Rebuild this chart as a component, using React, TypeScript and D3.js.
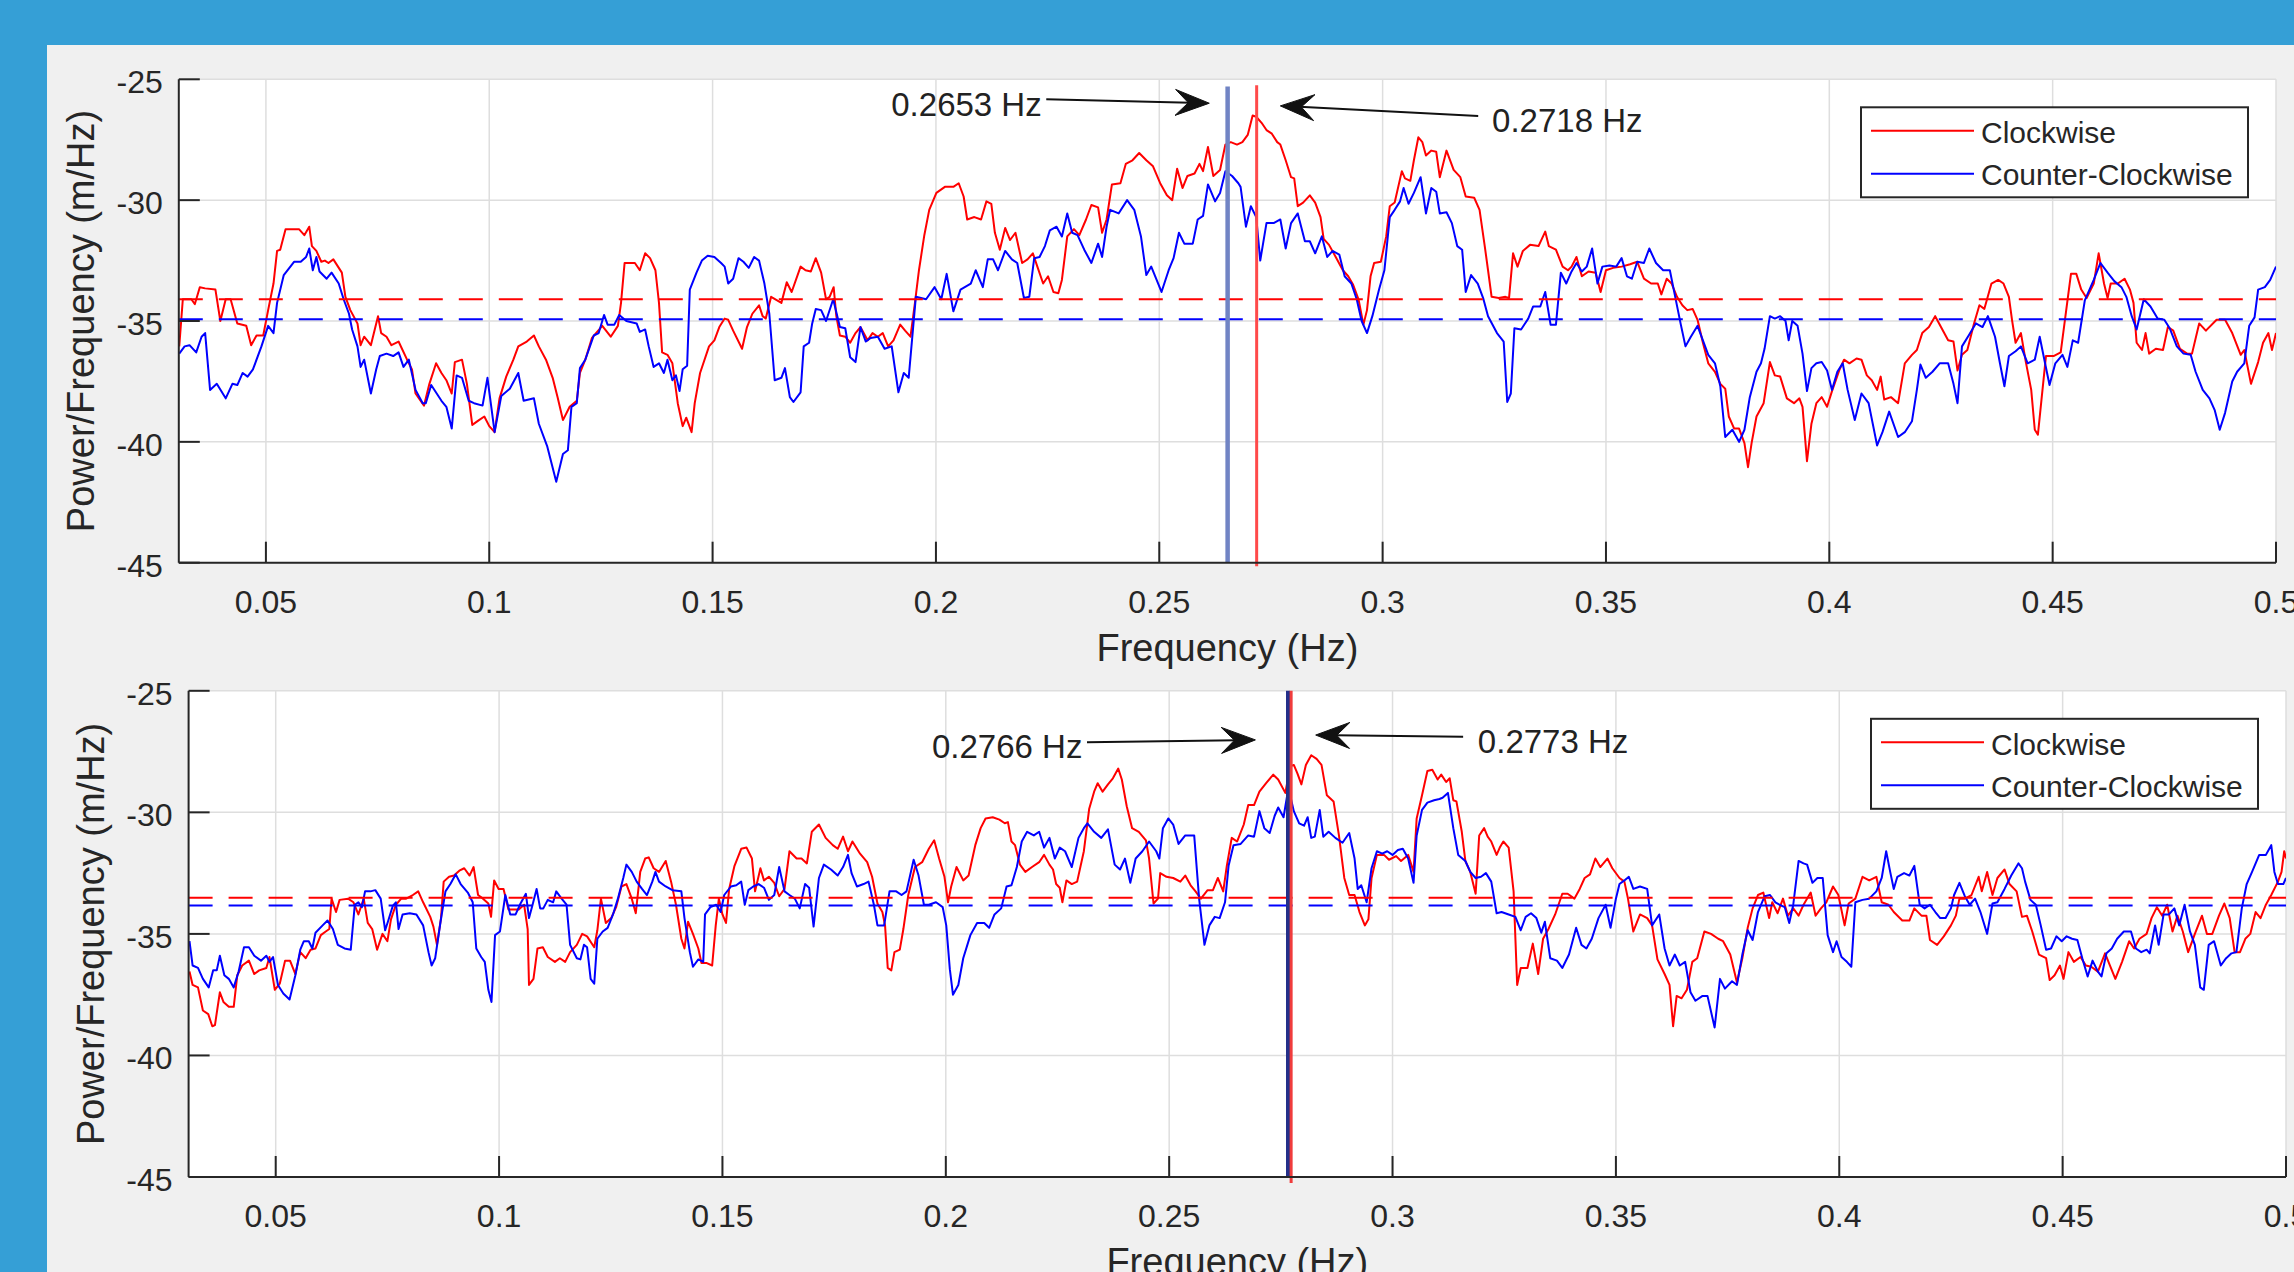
import React from "react";
import * as d3 from "d3";

type Pt = [number, number];

const xTicks = [0.05, 0.1, 0.15, 0.2, 0.25, 0.3, 0.35, 0.4, 0.45, 0.5];
const xTickLabels = ["0.05", "0.1", "0.15", "0.2", "0.25", "0.3", "0.35", "0.4", "0.45", "0.5"];
const yTicks = [-25, -30, -35, -40, -45];
const yTickLabels = ["-25", "-30", "-35", "-40", "-45"];
const seriesNames = ["Clockwise", "Counter-Clockwise"];
const xLabel = "Frequency (Hz)";
const yLabel = "Power/Frequency (m/Hz)";

const topCW: Pt[] = [
[0.0306,-36.05],[0.0314,-34.1],[0.0333,-34.1],[0.0341,-34.3],[0.0352,-33.6],[0.0364,-33.65],[0.0387,-33.7],[0.0398,-35.0],[0.041,-34.1],[0.0421,-34.1],[0.0436,-35.1],[0.0456,-35.2],[0.0467,-36.0],[0.0479,-35.6],[0.0494,-35.6],[0.0505,-34.55],[0.0517,-33.45],[0.0525,-32.1],[0.0532,-32.05],[0.0544,-31.2],[0.0574,-31.2],[0.0586,-31.45],[0.0597,-31.1],[0.0603,-31.9],[0.0613,-32.1],[0.0624,-32.55],[0.0632,-32.5],[0.064,-32.6],[0.0651,-32.45],[0.067,-33.0],[0.0678,-34.0],[0.0689,-34.55],[0.0705,-35.1],[0.0712,-36.0],[0.072,-35.65],[0.0735,-36.0],[0.0751,-34.8],[0.0758,-35.5],[0.077,-35.65],[0.0781,-36.0],[0.0797,-35.85],[0.0816,-36.6],[0.0827,-37.0],[0.0835,-38.0],[0.0854,-38.5],[0.0866,-37.6],[0.0881,-36.75],[0.0893,-37.15],[0.0904,-37.45],[0.0916,-38.0],[0.0923,-36.7],[0.0939,-36.6],[0.095,-37.6],[0.0962,-39.3],[0.0977,-39.1],[0.0989,-38.95],[0.1,-39.35],[0.1012,-39.6],[0.1023,-38.2],[0.1038,-37.3],[0.1054,-36.6],[0.1065,-36.05],[0.1084,-35.85],[0.11,-35.6],[0.1111,-36.05],[0.1127,-36.6],[0.1142,-37.35],[0.1153,-38.15],[0.1165,-39.1],[0.118,-38.55],[0.1196,-38.3],[0.1203,-37.15],[0.1215,-36.6],[0.123,-35.7],[0.1253,-35.2],[0.1272,-35.65],[0.1288,-35.2],[0.1295,-34.25],[0.1303,-32.6],[0.1326,-32.6],[0.1337,-32.9],[0.1349,-32.2],[0.136,-32.4],[0.1372,-32.9],[0.138,-34.25],[0.1387,-36.3],[0.1399,-36.4],[0.141,-36.75],[0.1422,-38.4],[0.1433,-39.35],[0.1441,-39.0],[0.1453,-39.6],[0.146,-38.4],[0.1472,-37.15],
[0.1492,-36.05],[0.1504,-35.8],[0.1515,-35.25],[0.1527,-34.9],[0.1535,-34.95],[0.1546,-35.4],[0.1566,-36.15],[0.1577,-35.25],[0.1589,-34.7],[0.1604,-34.35],[0.1612,-34.8],[0.1619,-34.9],[0.1631,-34.0],[0.1654,-34.25],[0.1666,-33.4],[0.1677,-33.8],[0.1697,-32.75],[0.1708,-32.9],[0.172,-32.95],[0.1731,-32.4],[0.1743,-33.0],[0.1754,-34.1],[0.1762,-34.0],[0.1771,-33.6],[0.1777,-34.8],[0.1785,-35.6],[0.1797,-35.65],[0.1808,-35.9],[0.182,-35.5],[0.1831,-35.25],[0.1847,-35.8],[0.1858,-35.5],[0.187,-35.65],[0.1881,-35.5],[0.1893,-36.05],[0.1905,-35.8],[0.192,-35.15],[0.1931,-35.4],[0.1943,-35.65],[0.1953,-34.25],[0.1962,-32.9],[0.1974,-31.45],[0.1985,-30.4],[0.2001,-29.7],[0.202,-29.45],[0.2039,-29.45],[0.2051,-29.3],[0.2062,-29.85],[0.207,-30.8],[0.2086,-30.7],[0.2101,-30.8],[0.2113,-30.05],[0.2124,-30.15],[0.2132,-31.35],[0.2143,-32.05],[0.2155,-31.15],[0.2166,-31.65],[0.2178,-31.35],[0.2193,-32.6],[0.2205,-32.45],[0.2217,-32.2],[0.2228,-32.8],[0.224,-33.45],[0.2251,-33.15],[0.2263,-33.8],[0.2274,-33.85],[0.2282,-33.3],[0.2294,-31.5],[0.2309,-31.2],[0.2321,-31.45],[0.2336,-30.8],[0.2348,-30.2],[0.2363,-30.3],[0.2372,-31.35],[0.2382,-30.8],[0.2394,-29.35],[0.2413,-29.3],[0.2425,-28.5],[0.244,-28.35],[0.2455,-28.05],[0.2471,-28.35],[0.2486,-28.6],[0.2502,-29.3],[0.2517,-29.8],[0.2529,-30.0],[0.254,-28.7],[0.2552,-29.5],[0.2563,-29.0],[0.2579,-28.9],[0.259,-28.5],[0.2598,-28.8],[0.2609,-27.8],[0.2621,-29.0],[0.2636,-28.75],[0.2648,-27.7],[0.266,-27.6],[0.2674,-27.7],
[0.2686,-27.6],[0.2698,-27.3],[0.2709,-26.5],[0.2717,-26.55],[0.2729,-26.8],[0.274,-27.1],[0.2752,-27.25],[0.2764,-27.6],[0.2771,-27.7],[0.2783,-28.35],[0.2795,-29.05],[0.2802,-29.1],[0.281,-30.25],[0.2822,-30.1],[0.2837,-29.8],[0.2849,-30.1],[0.2861,-30.7],[0.2868,-31.6],[0.288,-31.85],[0.2895,-32.35],[0.2911,-32.9],[0.2923,-33.15],[0.2934,-33.5],[0.2946,-34.1],[0.2957,-35.15],[0.2965,-34.55],[0.2973,-33.15],[0.2981,-32.6],[0.2996,-32.55],[0.3008,-31.5],[0.3016,-30.25],[0.3027,-30.1],[0.3043,-28.8],[0.305,-29.1],[0.3062,-29.2],[0.307,-28.35],[0.308,-27.4],[0.3089,-27.6],[0.3097,-28.15],[0.3109,-27.95],[0.312,-28.0],[0.3128,-29.05],[0.3143,-27.95],[0.3159,-28.75],[0.3174,-29.05],[0.3186,-29.85],[0.3205,-29.9],[0.3217,-30.4],[0.3229,-31.95],[0.3236,-32.9],[0.3244,-34.0],[0.326,-34.05],[0.3275,-34.0],[0.3283,-34.05],[0.3292,-32.2],[0.3302,-32.75],[0.3314,-32.1],[0.333,-31.85],[0.3349,-31.9],[0.3364,-31.3],[0.3372,-31.9],[0.3388,-32.05],[0.3403,-32.75],[0.3415,-32.9],[0.3423,-32.75],[0.3434,-32.35],[0.3446,-33.15],[0.3461,-32.95],[0.3477,-33.0],[0.3488,-33.8],[0.35,-32.9],[0.3516,-32.8],[0.3535,-32.75],[0.3554,-32.65],[0.357,-32.55],[0.3585,-33.25],[0.3601,-33.45],[0.3616,-33.45],[0.3624,-33.9],[0.3636,-33.25],[0.3647,-33.45],[0.3659,-34.0],[0.3671,-34.35],[0.3682,-34.55],[0.3694,-34.5],[0.3705,-34.95],[0.3717,-35.9],[0.3729,-36.75],[0.3744,-37.1],[0.3756,-37.6],[0.3767,-37.8],[0.3775,-38.95],[0.3787,-39.45],[0.3798,-39.45],[0.381,-40.05],[0.3818,-41.05],[0.3826,-40.05],[0.3837,-38.95],[0.3853,-38.4],
[0.3867,-36.7],[0.3878,-37.25],[0.389,-37.3],[0.3905,-38.2],[0.3921,-38.4],[0.3933,-38.2],[0.394,-38.55],[0.395,-40.8],[0.396,-39.25],[0.3971,-38.4],[0.3983,-38.15],[0.3995,-38.55],[0.4006,-37.9],[0.4022,-37.05],[0.4033,-36.6],[0.4045,-36.75],[0.4061,-36.55],[0.4072,-36.6],[0.4084,-37.25],[0.4095,-37.45],[0.4107,-37.85],[0.4115,-37.3],[0.4123,-38.25],[0.4138,-38.15],[0.4154,-38.4],[0.4169,-36.75],[0.4185,-36.4],[0.4196,-36.2],[0.4208,-35.5],[0.4223,-35.25],[0.4237,-34.8],[0.425,-35.25],[0.4266,-35.8],[0.4278,-35.85],[0.4287,-37.05],[0.4297,-36.4],[0.4309,-36.2],[0.4324,-35.1],[0.4336,-34.35],[0.4347,-34.5],[0.4363,-33.45],[0.4378,-33.3],[0.439,-33.45],[0.4402,-34.0],[0.4409,-34.95],[0.4417,-35.9],[0.4429,-35.5],[0.444,-36.7],[0.4452,-37.85],[0.446,-39.5],[0.4467,-39.7],[0.4475,-38.25],[0.4485,-36.45],[0.4502,-36.45],[0.4518,-36.3],[0.453,-34.6],[0.4541,-33.05],[0.4553,-33.05],[0.4564,-33.7],[0.4576,-34.05],[0.4592,-33.45],[0.4603,-32.2],[0.4615,-33.45],[0.4623,-34.05],[0.463,-33.45],[0.4646,-33.45],[0.4661,-33.25],[0.4673,-33.7],[0.4681,-34.25],[0.4688,-35.9],[0.47,-36.2],[0.4708,-35.5],[0.4716,-36.35],[0.4731,-36.15],[0.4747,-36.2],[0.4758,-35.25],[0.477,-35.4],[0.4785,-36.15],[0.4801,-36.35],[0.4812,-36.35],[0.4828,-35.1],[0.4843,-35.4],[0.4867,-34.95],[0.4886,-34.95],[0.4902,-35.5],[0.4921,-36.4],[0.4929,-36.2],[0.4944,-37.6],[0.496,-36.7],[0.4971,-35.9],[0.4983,-35.5],[0.4991,-36.2],[0.5,-35.5]
];

const topCCW: Pt[] = [
[0.0306,-36.35],[0.0318,-36.05],[0.0329,-36.0],[0.0344,-36.3],[0.0356,-35.65],[0.0364,-35.5],[0.0375,-37.85],[0.039,-37.6],[0.041,-38.2],[0.0425,-37.6],[0.0436,-37.65],[0.0448,-37.15],[0.0459,-37.3],[0.0471,-37.0],[0.049,-36.05],[0.0505,-35.2],[0.0517,-35.5],[0.0525,-34.25],[0.054,-33.1],[0.0563,-32.55],[0.0578,-32.55],[0.059,-32.35],[0.0597,-32.0],[0.0605,-32.9],[0.0613,-32.35],[0.062,-32.95],[0.0636,-33.25],[0.0647,-33.0],[0.0663,-33.45],[0.0674,-34.1],[0.0686,-34.7],[0.0693,-35.35],[0.0705,-36.05],[0.0712,-36.9],[0.072,-36.6],[0.0735,-38.0],[0.0747,-37.0],[0.0755,-36.45],[0.077,-36.35],[0.0785,-36.45],[0.0797,-36.3],[0.0808,-36.9],[0.082,-36.6],[0.0835,-37.85],[0.0851,-38.4],[0.0858,-38.4],[0.087,-37.65],[0.0893,-38.3],[0.0904,-38.55],[0.0916,-39.45],[0.0927,-37.25],[0.0939,-37.35],[0.0954,-38.3],[0.0966,-38.4],[0.0985,-38.5],[0.0996,-37.35],[0.1012,-39.6],[0.1027,-38.1],[0.1046,-37.8],[0.1065,-37.15],[0.1077,-38.3],[0.11,-38.2],[0.1111,-39.25],[0.113,-40.2],[0.115,-41.65],[0.1165,-40.5],[0.1176,-40.35],[0.1184,-38.55],[0.1196,-38.4],[0.1203,-36.95],[0.1215,-36.6],[0.1234,-35.6],[0.1245,-35.5],[0.1257,-34.75],[0.1265,-35.15],[0.128,-35.15],[0.1291,-34.75],[0.1307,-35.0],[0.133,-35.1],[0.1337,-35.45],[0.1349,-35.35],[0.1357,-36.05],[0.1368,-36.9],[0.138,-36.75],[0.1391,-37.15],[0.1399,-36.6],[0.141,-37.45],[0.1418,-37.25],[0.1426,-37.9],[0.1433,-37.0],[0.1443,-36.85],[0.1449,-33.7],[0.1464,-33.0],[0.1476,-32.5],[0.1489,-32.3],
[0.1504,-32.35],[0.1519,-32.6],[0.1527,-32.75],[0.1535,-33.45],[0.1546,-33.25],[0.1558,-32.4],[0.1569,-32.55],[0.1581,-32.8],[0.1593,-32.35],[0.1604,-32.5],[0.1616,-33.45],[0.1627,-34.7],[0.1639,-37.45],[0.1654,-37.35],[0.1662,-36.95],[0.1673,-38.15],[0.1681,-38.35],[0.1697,-37.95],[0.1704,-36.05],[0.1716,-35.9],[0.1723,-35.1],[0.1731,-34.5],[0.1743,-34.55],[0.1754,-35.0],[0.177,-34.1],[0.1785,-35.25],[0.1797,-35.3],[0.1808,-36.5],[0.182,-36.7],[0.1831,-35.25],[0.1843,-35.85],[0.1854,-35.7],[0.187,-35.65],[0.1885,-36.15],[0.1901,-36.05],[0.1916,-37.95],[0.1928,-37.15],[0.1939,-37.35],[0.1955,-34.0],[0.1978,-34.1],[0.1997,-33.6],[0.2012,-34.1],[0.2024,-33.05],[0.2039,-34.6],[0.2055,-33.7],[0.2078,-33.45],[0.2089,-32.9],[0.2105,-33.6],[0.2116,-32.45],[0.2128,-32.45],[0.2139,-32.9],[0.2155,-32.1],[0.217,-32.45],[0.2182,-32.6],[0.2197,-34.05],[0.2209,-34.0],[0.222,-32.4],[0.2232,-32.35],[0.2244,-31.9],[0.2255,-31.25],[0.227,-31.1],[0.2282,-31.5],[0.2294,-30.55],[0.2305,-31.35],[0.2317,-31.45],[0.2332,-32.05],[0.2348,-32.6],[0.2363,-31.8],[0.2372,-32.35],[0.2382,-31.1],[0.239,-30.4],[0.2409,-30.55],[0.2428,-30.0],[0.2444,-30.4],[0.2459,-31.5],[0.2471,-33.1],[0.2482,-32.75],[0.2505,-33.8],[0.2521,-32.9],[0.2532,-32.4],[0.2544,-31.35],[0.2556,-31.8],[0.2575,-31.8],[0.2586,-30.8],[0.2598,-30.65],[0.2609,-29.35],[0.2625,-30.05],[0.2636,-29.7],[0.2648,-28.8],[0.2663,-29.0],[0.2677,-29.3],
[0.2682,-29.45],[0.2694,-31.1],[0.2705,-30.25],[0.2717,-30.7],[0.2726,-32.5],[0.274,-30.95],[0.2756,-30.95],[0.2771,-30.8],[0.2783,-32.0],[0.2795,-30.95],[0.281,-30.55],[0.2826,-31.7],[0.2837,-31.7],[0.2849,-32.2],[0.2864,-31.5],[0.2876,-32.35],[0.2888,-32.1],[0.2903,-32.25],[0.2915,-33.15],[0.293,-33.45],[0.2942,-34.1],[0.2953,-35.0],[0.2965,-35.5],[0.2977,-34.8],[0.2992,-33.7],[0.3004,-32.9],[0.3016,-30.7],[0.3027,-30.4],[0.3039,-30.05],[0.3047,-29.5],[0.3058,-30.15],[0.307,-29.7],[0.3085,-29.05],[0.3097,-30.55],[0.3109,-29.5],[0.312,-29.65],[0.3128,-30.55],[0.3143,-30.5],[0.3155,-30.95],[0.3167,-31.9],[0.3178,-32.05],[0.3186,-33.8],[0.3198,-33.1],[0.3213,-33.45],[0.3225,-34.05],[0.3236,-34.8],[0.3256,-35.5],[0.3271,-35.85],[0.3279,-38.35],[0.3287,-38.0],[0.3295,-35.3],[0.331,-35.35],[0.3326,-34.9],[0.3337,-34.4],[0.3353,-34.4],[0.3364,-33.8],[0.3376,-35.15],[0.3388,-35.15],[0.3399,-33.0],[0.3411,-33.45],[0.3423,-32.95],[0.3434,-32.6],[0.3446,-32.95],[0.3457,-32.75],[0.3469,-32.0],[0.3481,-33.45],[0.3492,-32.75],[0.3508,-32.7],[0.3523,-32.75],[0.3535,-32.4],[0.3547,-33.15],[0.3558,-33.25],[0.357,-32.55],[0.3585,-32.6],[0.3597,-32.0],[0.3612,-32.6],[0.3628,-32.9],[0.3643,-32.9],[0.3655,-34.0],[0.3667,-35.1],[0.3678,-36.05],[0.369,-35.65],[0.3705,-35.2],[0.3717,-35.8],[0.3729,-36.4],[0.3744,-36.75],[0.3756,-37.7],[0.3767,-39.8],[0.3783,-39.5],[0.3798,-40.0],[0.381,-39.5],[0.3822,-38.15],[0.3837,-37.1],[0.3847,-36.75],
[0.3855,-36.15],[0.3867,-34.8],[0.3878,-34.9],[0.389,-34.8],[0.3902,-35.0],[0.3909,-35.8],[0.3917,-35.0],[0.3929,-35.2],[0.394,-36.35],[0.395,-37.9],[0.396,-36.95],[0.3971,-36.75],[0.3983,-36.7],[0.3995,-37.05],[0.4006,-37.85],[0.4018,-37.1],[0.403,-36.75],[0.4041,-37.85],[0.4057,-39.1],[0.4072,-38.0],[0.4088,-38.4],[0.4107,-40.15],[0.4119,-39.6],[0.4134,-38.75],[0.4154,-39.8],[0.4169,-39.6],[0.4185,-39.15],[0.4196,-37.85],[0.4204,-36.8],[0.4216,-37.35],[0.4231,-37.1],[0.4247,-36.75],[0.4266,-36.75],[0.4278,-37.6],[0.4287,-38.4],[0.4297,-36.05],[0.4312,-35.6],[0.4328,-35.1],[0.4343,-35.25],[0.4355,-34.8],[0.4371,-35.65],[0.4382,-36.75],[0.4392,-37.7],[0.4402,-36.45],[0.4417,-36.25],[0.4429,-36.05],[0.4444,-36.75],[0.446,-36.6],[0.4471,-35.65],[0.4483,-36.75],[0.4493,-37.65],[0.4506,-36.75],[0.4522,-36.4],[0.4533,-36.9],[0.4545,-35.8],[0.4557,-35.9],[0.4572,-34.15],[0.4592,-33.3],[0.4607,-32.6],[0.4623,-33.0],[0.4638,-33.35],[0.4654,-33.6],[0.4665,-34.0],[0.4677,-34.8],[0.4688,-35.35],[0.4704,-34.1],[0.4719,-34.4],[0.4735,-34.9],[0.475,-34.95],[0.4762,-35.3],[0.4778,-36.05],[0.4793,-36.35],[0.4809,-36.4],[0.482,-37.1],[0.4836,-37.85],[0.4851,-38.2],[0.4863,-38.7],[0.4874,-39.5],[0.4886,-38.8],[0.4902,-37.5],[0.4913,-37.1],[0.4929,-36.75],[0.494,-35.2],[0.4952,-34.85],[0.496,-33.7],[0.4975,-33.6],[0.4987,-33.3],[0.5,-32.75]
];

const bottomCW: Pt[] = [
[0.0307,-36.55],[0.0314,-37.1],[0.0326,-37.2],[0.0337,-38.15],[0.0349,-38.3],[0.0358,-38.8],[0.0364,-38.75],[0.0375,-37.4],[0.0383,-37.8],[0.0395,-38.0],[0.0406,-38.0],[0.0414,-36.7],[0.0425,-36.3],[0.044,-36.1],[0.0452,-36.65],[0.0463,-36.5],[0.0479,-36.4],[0.0486,-35.95],[0.0498,-37.3],[0.0509,-37.05],[0.0521,-36.1],[0.0532,-36.1],[0.0544,-36.65],[0.0555,-35.75],[0.0567,-36.0],[0.0578,-35.65],[0.0589,-35.6],[0.0601,-35.05],[0.0612,-34.9],[0.062,-34.8],[0.0625,-33.55],[0.0635,-34.1],[0.0643,-33.6],[0.0662,-33.55],[0.0674,-33.7],[0.0685,-34.2],[0.0697,-33.55],[0.0706,-34.55],[0.0716,-34.8],[0.0727,-35.65],[0.0739,-35.0],[0.075,-35.3],[0.0758,-34.4],[0.0769,-33.8],[0.0781,-33.55],[0.0792,-33.55],[0.0807,-33.4],[0.0819,-33.25],[0.083,-33.7],[0.0846,-34.3],[0.0853,-34.7],[0.0861,-35.45],[0.087,-34.35],[0.0876,-32.85],[0.0888,-32.65],[0.0899,-32.6],[0.0911,-32.4],[0.0922,-32.3],[0.0934,-32.6],[0.0943,-32.25],[0.0953,-33.4],[0.0964,-33.55],[0.0976,-33.75],[0.0982,-34.3],[0.0989,-32.8],[0.0999,-33.15],[0.101,-33.15],[0.1021,-34.0],[0.1033,-34.0],[0.1044,-34.0],[0.1056,-33.8],[0.1064,-34.8],[0.1067,-37.1],[0.1077,-36.85],[0.1086,-35.6],[0.1098,-35.55],[0.1109,-35.95],[0.1125,-36.15],[0.1136,-36.0],[0.1148,-36.15],[0.1159,-35.75],[0.1174,-35.45],[0.1186,-35.0],[0.1197,-35.1],[0.1213,-35.55],[0.122,-34.85],[0.1228,-33.55],[0.1239,-34.55],[0.1251,-34.35],[0.1262,-33.9],[0.1274,-33.05],[0.1285,-32.95],[0.1297,-33.55],[0.1306,-34.15],[0.1316,-32.45],[0.1327,-31.9],[0.1335,-31.85],[0.1346,-32.3],[0.1358,-32.45],[0.1373,-32.0],[0.1385,-32.85],[0.1396,-33.8],[0.1408,-35.2],[0.1415,-35.6],[0.1423,-34.5],[0.1434,-35.0],[0.1446,-35.6],[0.1453,-36.2],[0.1465,-36.2],[0.1477,-36.3],[0.1485,-34.65],
[0.1492,-33.55],[0.15,-34.2],[0.1508,-34.55],[0.1515,-33.15],[0.1527,-32.2],[0.1542,-31.5],[0.1554,-31.45],[0.1566,-31.9],[0.1573,-33.25],[0.1585,-32.3],[0.1593,-32.8],[0.1604,-32.65],[0.1616,-32.9],[0.1627,-33.45],[0.1639,-33.15],[0.165,-31.6],[0.1666,-31.9],[0.1677,-31.9],[0.1689,-32.1],[0.17,-30.8],[0.1716,-30.5],[0.1731,-31.05],[0.1747,-31.35],[0.1758,-31.5],[0.177,-31.0],[0.1781,-31.6],[0.1791,-31.2],[0.1808,-31.7],[0.1824,-32.05],[0.1835,-32.65],[0.1847,-33.75],[0.1858,-34.1],[0.1864,-34.65],[0.187,-36.4],[0.1878,-36.5],[0.1885,-35.75],[0.1897,-35.65],[0.1905,-34.8],[0.1916,-33.4],[0.1931,-32.25],[0.1947,-32.05],[0.1962,-31.5],[0.1974,-31.15],[0.1985,-31.9],[0.1997,-32.65],[0.2005,-33.7],[0.2012,-33.05],[0.2024,-32.25],[0.2039,-32.8],[0.2051,-32.6],[0.2066,-31.35],[0.2078,-30.65],[0.2089,-30.25],[0.2105,-30.2],[0.212,-30.3],[0.2132,-30.45],[0.2139,-30.4],[0.2147,-31.2],[0.2155,-31.35],[0.2166,-32.15],[0.2178,-32.45],[0.2193,-32.25],[0.2209,-32.05],[0.222,-31.75],[0.2232,-32.15],[0.224,-32.35],[0.2247,-32.95],[0.2255,-33.1],[0.2261,-33.7],[0.227,-32.8],[0.2282,-32.95],[0.2294,-32.85],[0.2309,-31.6],[0.2321,-29.85],[0.2332,-29.15],[0.234,-28.8],[0.2351,-29.15],[0.2363,-28.85],[0.2374,-28.6],[0.2386,-28.2],[0.2394,-28.65],[0.2405,-29.75],[0.2417,-30.65],[0.2432,-30.8],[0.2448,-31.15],[0.2455,-31.9],[0.2465,-33.75],[0.2475,-33.55],[0.248,-32.5],[0.2494,-32.65],[0.2509,-32.7],[0.2525,-32.85],[0.2536,-32.6],[0.2548,-33.0],[0.2559,-33.25],[0.2571,-33.55],[0.2586,-33.2],[0.2598,-33.2],[0.2609,-32.7],[0.2621,-33.25],[0.2629,-32.2],[0.264,-31.05],[0.2652,-31.2],[0.2667,-30.5],[0.2677,-29.7],
[0.269,-29.7],[0.2702,-29.15],[0.2717,-28.8],[0.2733,-28.45],[0.2744,-28.65],[0.276,-29.2],[0.2771,-28.1],[0.2779,-28.05],[0.2787,-28.4],[0.2796,-28.85],[0.2806,-28.05],[0.2818,-27.65],[0.283,-27.8],[0.2841,-28.05],[0.2853,-29.3],[0.2868,-29.55],[0.288,-30.95],[0.2892,-32.7],[0.2903,-33.4],[0.2915,-33.4],[0.2926,-34.1],[0.2938,-34.65],[0.2946,-34.4],[0.2953,-32.7],[0.2965,-31.75],[0.2981,-31.75],[0.2992,-31.95],[0.3008,-31.8],[0.3019,-32.0],[0.3035,-31.75],[0.3047,-32.45],[0.3054,-30.25],[0.3066,-29.3],[0.3078,-28.3],[0.3089,-28.25],[0.3101,-28.65],[0.3109,-28.45],[0.312,-28.75],[0.3128,-28.6],[0.3136,-29.5],[0.3143,-29.55],[0.3155,-30.8],[0.3163,-32.0],[0.3174,-32.45],[0.3186,-33.35],[0.3194,-30.95],[0.3205,-30.65],[0.3213,-31.0],[0.3221,-31.2],[0.3233,-31.75],[0.324,-31.45],[0.3248,-31.2],[0.326,-31.45],[0.3271,-33.25],[0.3279,-37.1],[0.3287,-36.4],[0.3302,-36.4],[0.3314,-35.4],[0.3326,-36.65],[0.3337,-35.2],[0.3349,-34.8],[0.3364,-34.2],[0.338,-33.35],[0.3392,-33.35],[0.3407,-33.55],[0.3419,-33.15],[0.343,-32.7],[0.3442,-32.55],[0.3454,-31.9],[0.3465,-32.25],[0.3481,-31.9],[0.3492,-32.3],[0.3508,-32.7],[0.3519,-32.85],[0.3527,-33.55],[0.3539,-34.9],[0.3554,-34.2],[0.357,-34.35],[0.3581,-34.65],[0.3593,-36.05],[0.3609,-36.65],[0.362,-37.1],[0.3628,-38.8],[0.3636,-37.55],[0.3647,-37.65],[0.3659,-37.3],[0.3671,-36.15],[0.3682,-36.0],[0.3698,-34.9],[0.3713,-35.0],[0.3729,-35.2],[0.374,-35.3],[0.3756,-35.85],[0.3771,-37.0],[0.3783,-36.0],[0.3795,-34.75],[0.3806,-33.95],[0.3818,-33.4],[0.383,-33.3],
[0.3843,-34.35],[0.385,-33.7],[0.3862,-34.15],[0.3874,-33.55],[0.3885,-34.25],[0.3897,-33.95],[0.3909,-34.25],[0.392,-33.8],[0.3936,-33.3],[0.3947,-34.25],[0.3959,-33.95],[0.3971,-33.7],[0.3986,-33.05],[0.3998,-33.4],[0.4012,-34.65],[0.4021,-33.75],[0.4036,-33.55],[0.4052,-32.65],[0.4067,-32.8],[0.4083,-32.65],[0.4095,-33.7],[0.411,-33.8],[0.4122,-34.1],[0.4141,-34.45],[0.4157,-34.45],[0.4168,-33.95],[0.4184,-34.25],[0.4195,-34.25],[0.4203,-35.25],[0.4219,-35.45],[0.4234,-35.1],[0.425,-34.65],[0.4261,-34.25],[0.4269,-33.55],[0.4281,-33.55],[0.4296,-33.4],[0.4312,-32.65],[0.4319,-33.25],[0.4331,-32.45],[0.4343,-33.4],[0.4354,-32.7],[0.437,-32.35],[0.4381,-32.95],[0.4397,-33.25],[0.4409,-34.3],[0.442,-34.25],[0.4432,-34.9],[0.4447,-35.85],[0.4463,-36.0],[0.4471,-36.9],[0.4482,-36.7],[0.4494,-36.3],[0.4502,-36.85],[0.4513,-35.75],[0.4525,-36.15],[0.454,-35.95],[0.4552,-36.3],[0.4564,-36.35],[0.4579,-36.55],[0.4595,-35.8],[0.4606,-36.3],[0.4618,-36.85],[0.4633,-36.15],[0.4649,-35.3],[0.466,-35.6],[0.4672,-35.2],[0.4688,-35.0],[0.4699,-34.35],[0.4711,-33.9],[0.4723,-34.25],[0.4734,-33.8],[0.4746,-34.9],[0.4757,-34.25],[0.4769,-34.9],[0.4781,-35.75],[0.4796,-35.0],[0.4812,-34.25],[0.4823,-35.0],[0.4835,-35.0],[0.485,-34.25],[0.4862,-33.75],[0.4874,-34.35],[0.4885,-35.75],[0.4897,-35.75],[0.4909,-35.2],[0.492,-35.0],[0.4932,-34.1],[0.4943,-34.35],[0.4955,-33.8],[0.4967,-33.4],[0.4982,-32.85],[0.499,-32.45],[0.4996,-31.6],[0.5,-31.9]
];

const bottomCCW: Pt[] = [
[0.0307,-35.3],[0.0314,-36.3],[0.0326,-36.4],[0.0337,-36.85],[0.035,-37.2],[0.036,-36.5],[0.0368,-36.5],[0.0375,-35.9],[0.0385,-36.7],[0.0395,-36.85],[0.0406,-37.2],[0.0417,-36.55],[0.0429,-35.55],[0.044,-35.55],[0.0452,-35.9],[0.0467,-36.1],[0.0479,-35.9],[0.0486,-36.15],[0.0494,-35.95],[0.0505,-37.1],[0.0517,-37.45],[0.0531,-37.7],[0.0544,-36.7],[0.0555,-35.65],[0.0563,-35.3],[0.0574,-35.3],[0.0582,-35.6],[0.0589,-34.95],[0.0605,-34.65],[0.0616,-34.45],[0.0628,-34.8],[0.0639,-35.45],[0.0654,-35.6],[0.0668,-35.65],[0.0677,-33.8],[0.0685,-33.7],[0.0693,-33.9],[0.07,-33.25],[0.0712,-33.25],[0.0723,-33.2],[0.0735,-33.55],[0.0745,-34.85],[0.0752,-34.45],[0.0762,-33.85],[0.0769,-33.7],[0.0775,-34.8],[0.0784,-34.2],[0.08,-34.15],[0.0815,-34.2],[0.083,-34.65],[0.0842,-35.75],[0.0849,-36.3],[0.0857,-36.0],[0.0869,-34.5],[0.088,-33.25],[0.0891,-32.95],[0.0903,-32.55],[0.0914,-32.95],[0.093,-33.3],[0.0941,-33.7],[0.0949,-35.6],[0.096,-35.95],[0.0968,-36.15],[0.0976,-37.3],[0.0983,-37.8],[0.0991,-35.05],[0.1002,-34.9],[0.1014,-33.4],[0.1025,-34.2],[0.1037,-34.2],[0.1048,-33.75],[0.106,-33.35],[0.1067,-34.35],[0.1075,-33.8],[0.1084,-33.15],[0.1092,-33.95],[0.1099,-33.95],[0.1109,-33.6],[0.1121,-33.7],[0.1128,-33.25],[0.114,-33.55],[0.1151,-33.8],[0.1159,-35.45],[0.1174,-36.0],[0.1182,-36.05],[0.119,-35.45],[0.1197,-35.55],[0.1205,-36.85],[0.1213,-37.05],[0.122,-35.2],[0.1232,-34.9],[0.1243,-34.75],[0.1255,-34.2],[0.1266,-33.55],[0.1278,-32.7],[0.1285,-32.15],[0.1297,-32.45],[0.1308,-32.85],[0.132,-33.15],[0.1331,-33.4],[0.1343,-32.85],[0.135,-32.45],[0.1358,-32.85],[0.1373,-33.05],[0.1388,-33.2],[0.1408,-33.25],[0.1415,-34.35],[0.1427,-35.75],[0.1434,-36.35],[0.1446,-36.05],[0.1457,-36.15],[0.1461,-34.2],[0.1473,-33.9],[0.1486,-33.8],
[0.1496,-34.1],[0.1504,-33.4],[0.1519,-33.05],[0.1531,-33.0],[0.1542,-32.85],[0.155,-33.8],[0.1558,-33.2],[0.1569,-33.05],[0.1581,-32.95],[0.1593,-33.1],[0.1604,-33.6],[0.1616,-33.4],[0.1627,-32.25],[0.1639,-33.25],[0.165,-33.4],[0.1662,-33.55],[0.1673,-33.95],[0.1685,-32.95],[0.1694,-33.1],[0.1704,-34.7],[0.1716,-32.7],[0.1727,-32.15],[0.1743,-32.35],[0.1758,-32.6],[0.177,-32.25],[0.1781,-31.75],[0.1789,-32.5],[0.1801,-33.05],[0.1816,-32.95],[0.1827,-32.85],[0.1839,-33.8],[0.1847,-34.65],[0.1862,-34.65],[0.1874,-33.25],[0.1889,-33.25],[0.1901,-33.4],[0.1912,-33.25],[0.1928,-31.95],[0.1939,-32.6],[0.1951,-33.8],[0.1962,-33.8],[0.1978,-33.7],[0.1993,-33.9],[0.2001,-34.65],[0.2009,-36.45],[0.2016,-37.5],[0.2028,-37.1],[0.2039,-36.0],[0.2055,-35.05],[0.207,-34.55],[0.2086,-34.55],[0.2097,-34.75],[0.2109,-34.2],[0.2124,-33.95],[0.2136,-33.05],[0.2147,-33.0],[0.2159,-32.25],[0.217,-31.2],[0.2182,-30.8],[0.2197,-30.95],[0.2209,-30.8],[0.222,-31.45],[0.2232,-31.05],[0.2244,-31.9],[0.2255,-31.45],[0.2267,-31.6],[0.2282,-32.25],[0.2297,-31.05],[0.2309,-30.65],[0.2317,-30.45],[0.2332,-30.8],[0.2348,-31.05],[0.2363,-30.7],[0.2378,-32.15],[0.239,-32.35],[0.2401,-31.9],[0.2413,-32.9],[0.2425,-31.9],[0.244,-31.6],[0.2455,-31.2],[0.2471,-31.6],[0.2478,-31.9],[0.2486,-30.65],[0.2498,-30.25],[0.2509,-30.5],[0.2521,-31.3],[0.2536,-30.95],[0.2556,-30.95],[0.2567,-33.55],[0.2579,-35.45],[0.259,-34.65],[0.2602,-34.3],[0.2613,-34.35],[0.2625,-33.7],[0.2633,-32.2],[0.2644,-31.35],[0.266,-31.3],[0.2677,-30.95],
[0.269,-31.0],[0.2702,-29.95],[0.2713,-30.65],[0.2725,-30.85],[0.2736,-30.15],[0.2744,-29.8],[0.2756,-30.2],[0.2767,-29.0],[0.2779,-29.95],[0.2791,-30.45],[0.2802,-30.55],[0.281,-30.2],[0.2818,-31.05],[0.2826,-31.0],[0.2837,-29.9],[0.2845,-31.0],[0.2857,-30.8],[0.2872,-31.05],[0.2888,-31.25],[0.2903,-30.85],[0.2915,-31.9],[0.2922,-33.15],[0.293,-33.0],[0.2942,-33.7],[0.2953,-32.3],[0.2965,-31.6],[0.2977,-31.7],[0.2988,-31.6],[0.3,-31.75],[0.3012,-31.55],[0.3023,-31.5],[0.3035,-31.9],[0.3047,-32.9],[0.3054,-30.95],[0.3066,-29.9],[0.3078,-29.6],[0.3093,-29.5],[0.3105,-29.45],[0.3112,-29.4],[0.3124,-29.2],[0.3136,-30.65],[0.3147,-31.75],[0.3163,-32.0],[0.3174,-32.45],[0.3186,-32.7],[0.3198,-32.65],[0.3209,-32.5],[0.3221,-32.85],[0.3233,-34.15],[0.3244,-34.1],[0.326,-34.2],[0.3275,-34.3],[0.3287,-34.85],[0.3298,-34.3],[0.331,-34.15],[0.3322,-34.35],[0.3333,-34.95],[0.3341,-34.5],[0.3353,-36.0],[0.3368,-36.1],[0.338,-36.4],[0.3395,-35.85],[0.3411,-34.75],[0.3423,-35.45],[0.3434,-35.6],[0.3446,-35.2],[0.3461,-34.35],[0.3477,-33.8],[0.3488,-34.75],[0.35,-33.55],[0.3508,-32.95],[0.3519,-32.8],[0.3529,-32.65],[0.3539,-33.15],[0.3554,-33.05],[0.357,-33.15],[0.3581,-34.65],[0.3597,-34.2],[0.3609,-35.6],[0.362,-36.3],[0.3632,-35.85],[0.3643,-36.3],[0.3655,-36.15],[0.3667,-37.4],[0.3678,-37.75],[0.3694,-37.55],[0.3705,-37.55],[0.3721,-38.85],[0.3733,-36.85],[0.3744,-37.25],[0.376,-36.95],[0.3771,-37.1],[0.3783,-35.85],[0.3795,-34.85],[0.3806,-35.25],[0.3818,-34.1],[0.3833,-33.45],[0.3845,-33.4],[0.3857,-33.7],[0.3866,-33.8],
[0.3878,-33.9],[0.3888,-34.55],[0.3897,-33.8],[0.3909,-32.0],[0.392,-32.1],[0.3928,-32.15],[0.394,-32.9],[0.3951,-32.7],[0.3963,-32.7],[0.3974,-35.05],[0.3986,-35.75],[0.3994,-35.3],[0.4005,-35.95],[0.4017,-36.15],[0.4027,-36.35],[0.4036,-33.7],[0.4052,-33.6],[0.4067,-33.55],[0.4083,-33.25],[0.4095,-32.7],[0.4105,-31.6],[0.4114,-32.45],[0.4122,-33.15],[0.413,-32.65],[0.4145,-32.5],[0.4157,-32.6],[0.4168,-32.2],[0.418,-33.8],[0.4191,-33.95],[0.4203,-33.8],[0.4215,-34.1],[0.4226,-34.35],[0.4238,-34.35],[0.425,-33.95],[0.4257,-33.4],[0.4269,-32.9],[0.4281,-33.45],[0.4292,-33.8],[0.4304,-33.55],[0.4316,-34.1],[0.4331,-35.0],[0.4343,-33.75],[0.4354,-33.7],[0.437,-33.15],[0.4385,-32.6],[0.4401,-32.1],[0.4409,-32.3],[0.4416,-32.85],[0.4428,-33.6],[0.444,-33.8],[0.4451,-34.65],[0.4463,-35.65],[0.4474,-35.6],[0.4486,-35.1],[0.4498,-35.3],[0.4509,-35.1],[0.4521,-35.2],[0.4533,-35.25],[0.4544,-36.0],[0.4556,-36.75],[0.4567,-36.1],[0.4579,-36.55],[0.4587,-36.75],[0.4598,-35.8],[0.461,-35.6],[0.4622,-35.2],[0.4637,-34.9],[0.4653,-34.9],[0.4664,-35.6],[0.4676,-35.75],[0.4688,-35.65],[0.4695,-35.8],[0.4707,-34.65],[0.4715,-35.45],[0.4726,-34.2],[0.4738,-34.2],[0.475,-33.95],[0.4761,-34.65],[0.4773,-33.8],[0.4785,-34.9],[0.4796,-35.45],[0.4808,-37.2],[0.4816,-37.3],[0.4827,-35.45],[0.4839,-35.3],[0.4854,-36.3],[0.4866,-36.0],[0.4878,-35.8],[0.4889,-35.75],[0.4901,-33.95],[0.4912,-32.95],[0.4924,-32.45],[0.494,-31.75],[0.4955,-31.75],[0.4967,-31.35],[0.4974,-32.45],[0.4982,-32.95],[0.4994,-32.95],[0.5,-32.7]
];

// mean levels (dashed) [CW, CCW]
const topMeans = [-34.1, -34.93];
const bottomMeans = [-33.51, -33.83];
// peak frequencies [CW, CCW]
const topPeaks = [0.2718, 0.2653];
const bottomPeaks = [0.2773, 0.2766];
const topPeakLabels = ["0.2718 Hz", "0.2653 Hz"];
const bottomPeakLabels = ["0.2773 Hz", "0.2766 Hz"];

const FONT = "'Liberation Sans', Arial, Helvetica, sans-serif";
const INK = "#262626";
const RED = "#ff0000";
const BLUE = "#0000ff";

type Ann = { text: string; tx: number; ty: number; x1: number; y1: number; x2: number; y2: number };

type PanelProps = {
  box: { left: number; right: number; top: number; bottom: number };
  cw: Pt[];
  ccw: Pt[];
  means: number[];
  peaks: number[];
  vlines: { cw: [number, number]; ccw: [number, number]; cwColor: string; ccwColor: string; ccwWidth: number; cwWidth: number };
  anns: Ann[];
  id: string;
};

function arrowPath(x1: number, y1: number, x2: number, y2: number) {
  const dx = x2 - x1, dy = y2 - y1;
  const len = Math.hypot(dx, dy);
  const ux = dx / len, uy = dy / len;
  const nx = -uy, ny = ux;
  const L = 34, Wd = 13, N = 21;
  const bx = x2 - ux * L, by = y2 - uy * L;
  const mx = x2 - ux * N, my = y2 - uy * N;
  return {
    head: `M${x2},${y2} L${bx + nx * Wd},${by + ny * Wd} L${mx},${my} L${bx - nx * Wd},${by - ny * Wd} Z`,
    lx: mx + ux * 2, ly: my + uy * 2,
  };
}

function Panel({ box, cw, ccw, means, peaks, vlines, anns, id }: PanelProps) {
  const x = d3.scaleLinear().domain([0.0305, 0.5]).range([box.left, box.right]);
  const y = d3.scaleLinear().domain([-45, -25]).range([box.bottom, box.top]);
  const line = d3.line<Pt>().x((d) => x(d[0])).y((d) => y(d[1]));
  const [x0, x1] = x.domain();
  const tickLen = 21;
  return (
    <g>
      <defs>
        <clipPath id={id}>
          <rect x={box.left} y={box.top} width={box.right - box.left} height={box.bottom - box.top} />
        </clipPath>
      </defs>
      <rect x={box.left} y={box.top} width={box.right - box.left} height={box.bottom - box.top} fill="#ffffff" />
      {/* grid */}
      {xTicks.map((t) => (
        <line key={"gx" + t} x1={x(t)} x2={x(t)} y1={box.top} y2={box.bottom} stroke="#dedede" strokeWidth={1.5} />
      ))}
      {yTicks.map((t) => (
        <line key={"gy" + t} x1={box.left} x2={box.right} y1={y(t)} y2={y(t)} stroke="#dedede" strokeWidth={1.5} />
      ))}
      <g clipPath={`url(#${id})`}>
        <path d={line(cw) || ""} fill="none" stroke={RED} strokeWidth={2} strokeLinejoin="round" />
        <path d={line(ccw) || ""} fill="none" stroke={BLUE} strokeWidth={2} strokeLinejoin="round" />
        <line x1={x(x0)} x2={x(x1)} y1={y(means[0])} y2={y(means[0])} stroke={RED} strokeWidth={2} strokeDasharray="24 16" />
        <line x1={x(x0)} x2={x(x1)} y1={y(means[1])} y2={y(means[1])} stroke={BLUE} strokeWidth={2} strokeDasharray="24 16" />
      </g>
      {/* peak markers */}
      <line x1={x(peaks[1])} x2={x(peaks[1])} y1={y(vlines.ccw[0])} y2={y(vlines.ccw[1])} stroke={vlines.ccwColor} strokeWidth={vlines.ccwWidth} />
      <line x1={x(peaks[0])} x2={x(peaks[0])} y1={y(vlines.cw[0])} y2={y(vlines.cw[1])} stroke={vlines.cwColor} strokeWidth={vlines.cwWidth} />
      {/* axes */}
      <line x1={box.left} x2={box.right} y1={box.bottom} y2={box.bottom} stroke={INK} strokeWidth={2} />
      <line x1={box.left} x2={box.left} y1={box.top} y2={box.bottom} stroke={INK} strokeWidth={2} />
      {xTicks.map((t, i) => (
        <g key={"xt" + t}>
          <line x1={x(t)} x2={x(t)} y1={box.bottom} y2={box.bottom - tickLen} stroke={INK} strokeWidth={2} />
          <text x={x(t)} y={box.bottom + 50} textAnchor="middle" fontSize={32} fill={INK} fontFamily={FONT}>
            {xTickLabels[i]}
          </text>
        </g>
      ))}
      {yTicks.map((t, i) => (
        <g key={"yt" + t}>
          <line x1={box.left} x2={box.left + tickLen} y1={y(t)} y2={y(t)} stroke={INK} strokeWidth={2} />
          <text x={box.left - 16} y={y(t) + 14} textAnchor="end" fontSize={32} fill={INK} fontFamily={FONT}>
            {yTickLabels[i]}
          </text>
        </g>
      ))}
      <text x={(box.left + box.right) / 2} y={box.bottom + 98} textAnchor="middle" fontSize={38} fill={INK} fontFamily={FONT}>
        {xLabel}
      </text>
      <text
        transform={`translate(${box.left - 85},${(box.top + box.bottom) / 2}) rotate(-90)`}
        textAnchor="middle"
        fontSize={38}
        fill={INK}
        fontFamily={FONT}
      >
        {yLabel}
      </text>
      {/* legend */}
      <g transform={`translate(${box.right - 28 - 387},${box.top + 28})`}>
        <rect x={0} y={0} width={387} height={90} fill="#ffffff" stroke={INK} strokeWidth={2} />
        <line x1={10} x2={113} y1={23.5} y2={23.5} stroke={RED} strokeWidth={2} />
        <line x1={10} x2={113} y1={66.5} y2={66.5} stroke={BLUE} strokeWidth={2} />
        <text x={120} y={36} fontSize={30} fill={INK} fontFamily={FONT}>{seriesNames[0]}</text>
        <text x={120} y={78} fontSize={30} fill={INK} fontFamily={FONT}>{seriesNames[1]}</text>
      </g>
      {/* annotations */}
      {anns.map((a) => {
        const p = arrowPath(x(a.x1), y(a.y1), x(a.x2), y(a.y2));
        return (
          <g key={a.text}>
            <line x1={x(a.x1)} y1={y(a.y1)} x2={p.lx} y2={p.ly} stroke="#111" strokeWidth={2} />
            <path d={p.head} fill="#111" stroke="#111" strokeWidth={1} strokeLinejoin="miter" />
            <text x={x(a.tx)} y={y(a.ty)} fontSize={33} fill="#222" fontFamily={FONT}>{a.text}</text>
          </g>
        );
      })}
    </g>
  );
}

export default function App() {
  const W = 2294, H = 1272;
  const topAnns: Ann[] = [
    { text: topPeakLabels[1], tx: 0.19, ty: -26.52, x1: 0.2247, y1: -25.83, x2: 0.2612, y2: -25.99 },
    { text: topPeakLabels[0], tx: 0.3245, ty: -27.17, x1: 0.3214, y1: -26.52, x2: 0.2771, y2: -26.1 },
  ];
  const botAnns: Ann[] = [
    { text: bottomPeakLabels[1], tx: 0.1969, ty: -27.78, x1: 0.2316, y1: -27.12, x2: 0.2693, y2: -27.02 },
    { text: bottomPeakLabels[0], tx: 0.3191, ty: -27.57, x1: 0.3158, y1: -26.89, x2: 0.2828, y2: -26.82 },
  ];
  return (
    <svg
      width={W}
      height={H}
      viewBox={`0 0 ${W} ${H}`}
      style={{ position: "absolute", left: 0, top: 0, display: "block" }}
    >
      <rect x={0} y={0} width={W} height={H} fill="#359fd6" />
      <rect x={47} y={45} width={W - 47} height={H - 45} fill="#f0f0f0" />
      <Panel
        id="clipTop"
        box={{ left: 178.8, right: 2276, top: 79.3, bottom: 562.7 }}
        cw={topCW}
        ccw={topCCW}
        means={topMeans}
        peaks={topPeaks}
        vlines={{ cw: [-25.25, -45.15], ccw: [-25.3, -45], cwColor: "#ff4a4a", ccwColor: "#7184c4", cwWidth: 3, ccwWidth: 4.5 }}
        anns={topAnns}
      />
      <Panel
        id="clipBot"
        box={{ left: 188.6, right: 2286, top: 690.8, bottom: 1177 }}
        cw={bottomCW}
        ccw={bottomCCW}
        means={bottomMeans}
        peaks={bottomPeaks}
        vlines={{ cw: [-25, -45.25], ccw: [-25, -45], cwColor: "#f03c3c", ccwColor: "#24308a", cwWidth: 3, ccwWidth: 4 }}
        anns={botAnns}
      />
    </svg>
  );
}
